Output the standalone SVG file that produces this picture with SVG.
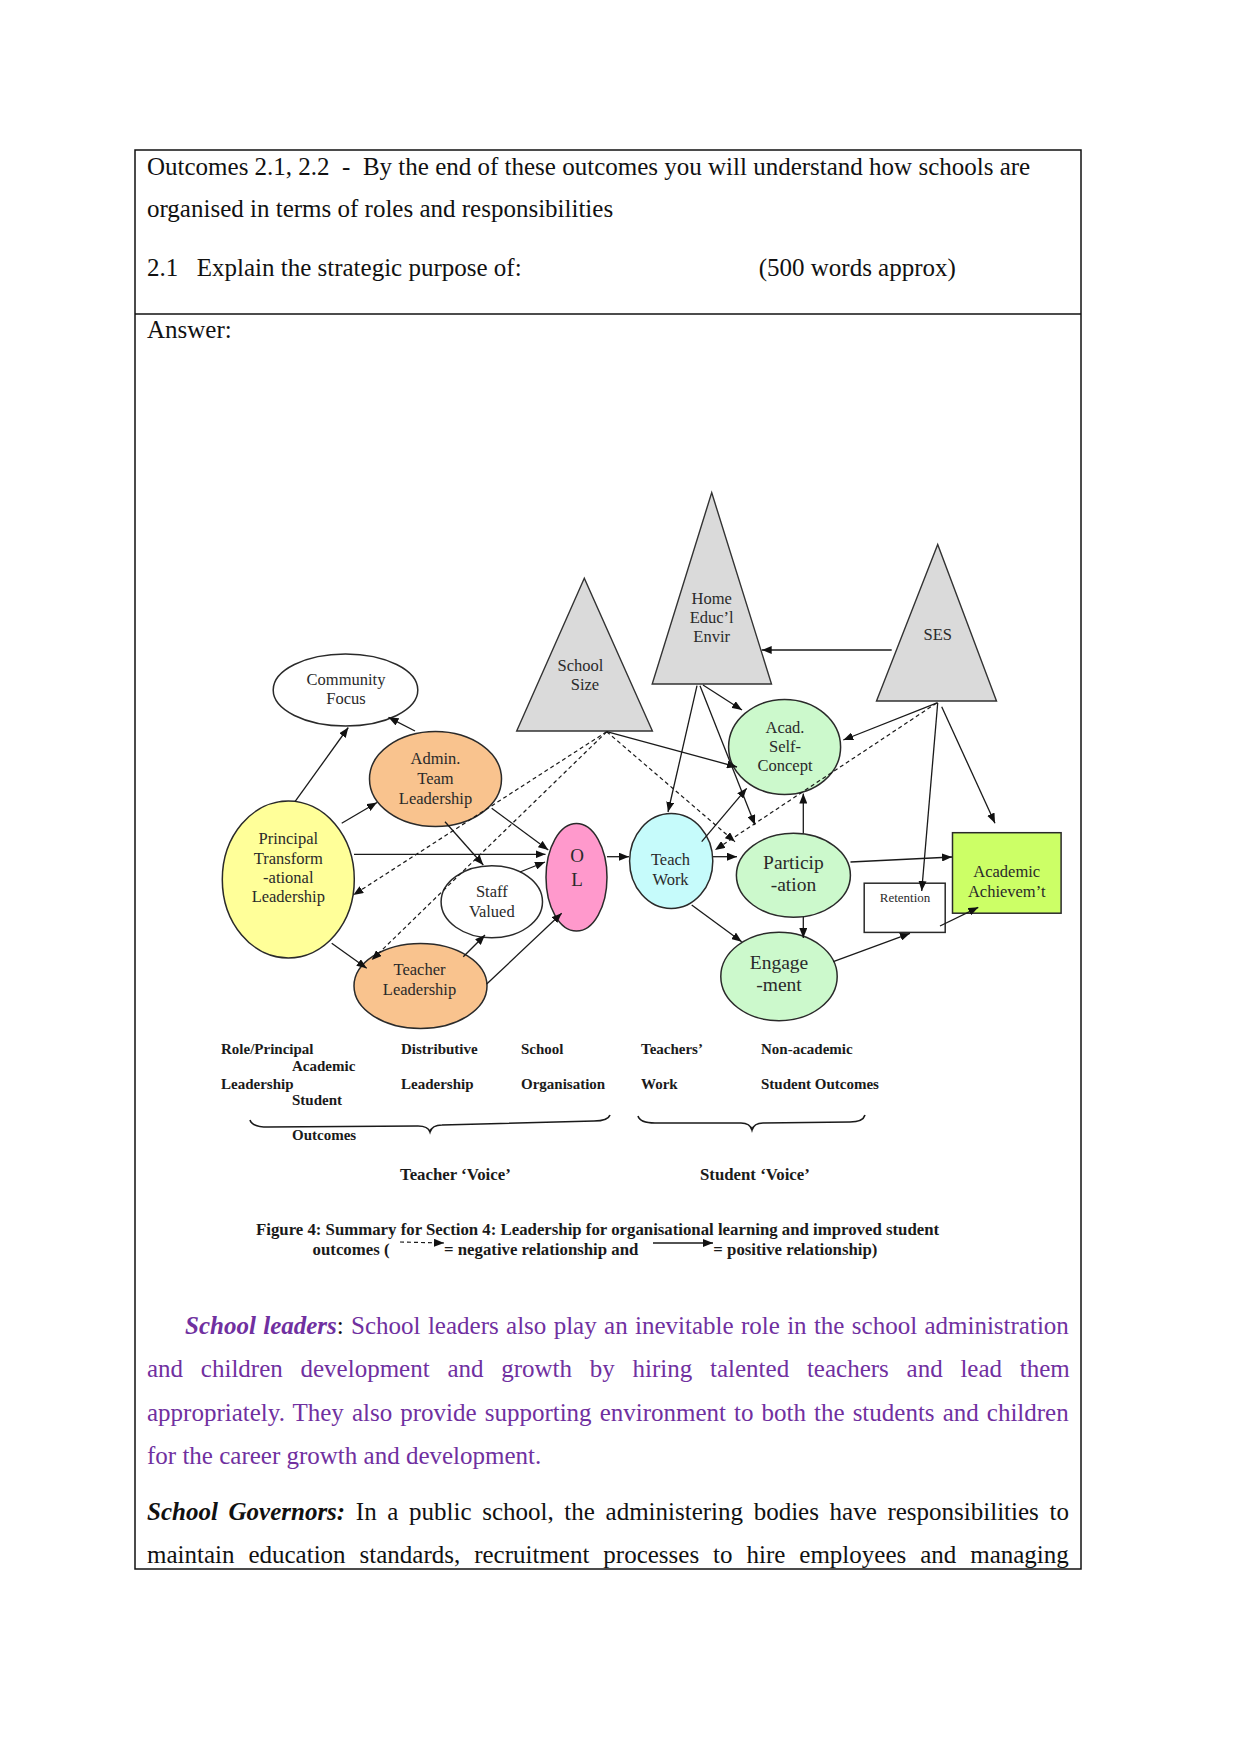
<svg xmlns="http://www.w3.org/2000/svg" width="1241" height="1754" viewBox="0 0 1241 1754">
<style>
text{font-family:"Liberation Serif","Times New Roman",serif;}
.body{font-size:25px;fill:#111;}
.purple{fill:#7030a0;}
.bi{font-weight:bold;font-style:italic;}
.nt{font-size:16.5px;text-anchor:middle;fill:#2a2a2a;}
.big{font-size:19.5px;}
.lab{font-size:15px;font-weight:bold;fill:#1a1a1a;}
.cap{font-size:16.8px;font-weight:bold;fill:#1a1a1a;}
.node{stroke:#2a2a2a;stroke-width:1.5;}
.tri{fill:#dadada;stroke:#333;stroke-width:1.4;}
.c{stroke:#1a1a1a;stroke-width:1.3;fill:none;marker-end:url(#ah);}
.d{stroke:#1a1a1a;stroke-width:1.2;fill:none;stroke-dasharray:4 3;marker-end:url(#ah);}
.brace{stroke:#1a1a1a;stroke-width:1.6;fill:none;}
</style>
<defs>
<marker id="ah" viewBox="0 0 10 8" refX="10" refY="4" markerWidth="10" markerHeight="8" markerUnits="userSpaceOnUse" orient="auto"><path d="M0,0 L10,4 L0,8 z" fill="#111"/></marker>
</defs>
<rect width="1241" height="1754" fill="#fff"/>
<!-- table frame -->
<rect x="135" y="150" width="946" height="1419" fill="none" stroke="#111" stroke-width="1.5"/>
<line x1="135" y1="314" x2="1081" y2="314" stroke="#111" stroke-width="1.5"/>
<!-- header text -->
<text class="body" x="147" y="174.5" xml:space="preserve">Outcomes 2.1, 2.2  -  By the end of these outcomes you will understand how schools are</text>
<text class="body" x="147" y="217">organised in terms of roles and responsibilities</text>
<text class="body" x="147" y="276">2.1</text>
<text class="body" x="196.7" y="276">Explain the strategic purpose of:</text>
<text class="body" x="758.7" y="276">(500 words approx)</text>
<text class="body" x="147" y="338">Answer:</text>

<!-- nodes -->
<g id="school-size"><polygon class="tri" points="584.3,578.3 516.7,731 652.4,731"/><text class="nt" x="580.5" y="671">School</text><text class="nt" x="585" y="690">Size</text></g>
<g id="home-env"><polygon class="tri" points="711.7,492.6 652.2,684 771.5,684"/><text class="nt" x="711.7" y="604">Home</text><text class="nt" x="711.7" y="623">Educ’l</text><text class="nt" x="711.7" y="642">Envir</text></g>
<g id="ses"><polygon class="tri" points="937.7,544.5 876.5,701 996.5,701"/><text class="nt" x="937.7" y="639.5">SES</text></g>
<g id="community"><ellipse class="node" cx="345.5" cy="690" rx="72.3" ry="36" fill="#fff"/><text class="nt" x="346" y="684.5">Community</text><text class="nt" x="346" y="703.5">Focus</text></g>
<g id="admin"><ellipse class="node" cx="435.5" cy="779" rx="66" ry="47.5" fill="#f9c38e"/><text class="nt" x="435.5" y="764" fill="#3d2410">Admin.</text><text class="nt" x="435.5" y="783.5" fill="#3d2410">Team</text><text class="nt" x="435.5" y="804" fill="#3d2410">Leadership</text></g>
<g id="principal"><ellipse class="node" cx="288.3" cy="879.5" rx="66" ry="78.5" fill="#ffff99"/><text class="nt" x="288.3" y="843.5" fill="#3a3a10">Principal</text><text class="nt" x="288.3" y="863.5" fill="#3a3a10">Transform</text><text class="nt" x="288.3" y="882.5" fill="#3a3a10">-ational</text><text class="nt" x="288.3" y="901.5" fill="#3a3a10">Leadership</text></g>
<g id="ol"><ellipse class="node" cx="576.5" cy="877.3" rx="30.5" ry="53.7" fill="#ff99cc"/><text class="nt" x="577" y="861.5" style="font-size:19px" fill="#8b1f57">O</text><text class="nt" x="577" y="886" style="font-size:19px" fill="#8b1f57">L</text></g>
<g id="staff"><ellipse class="node" cx="491.8" cy="901.8" rx="50.7" ry="36" fill="#fff"/><text class="nt" x="491.8" y="896.5">Staff</text><text class="nt" x="491.8" y="916.5">Valued</text></g>
<g id="teacher"><ellipse class="node" cx="420.5" cy="986" rx="66.5" ry="42.5" fill="#f9c38e"/><text class="nt" x="419.5" y="975" fill="#3d2410">Teacher</text><text class="nt" x="419.5" y="995" fill="#3d2410">Leadership</text></g>
<g id="teach-work"><ellipse class="node" cx="671.2" cy="861" rx="41.6" ry="47.5" fill="#c6fbfb"/><text class="nt" x="670.5" y="865" fill="#1f4848">Teach</text><text class="nt" x="670.5" y="885" fill="#1f4848">Work</text></g>
<g id="acad-self"><ellipse class="node" cx="784.6" cy="747" rx="56" ry="47.5" fill="#ccf9cc"/><text class="nt" x="785" y="733" fill="#1d3d1d">Acad.</text><text class="nt" x="785" y="752" fill="#1d3d1d">Self-</text><text class="nt" x="785" y="771" fill="#1d3d1d">Concept</text></g>
<g id="particip"><ellipse class="node" cx="793.4" cy="875.3" rx="57" ry="42" fill="#ccf9cc"/><text class="nt big" x="793.4" y="868.5" fill="#1d3d1d">Particip</text><text class="nt big" x="793.4" y="891" fill="#1d3d1d">-ation</text></g>
<g id="engage"><ellipse class="node" cx="779" cy="976.5" rx="58.2" ry="44.2" fill="#ccf9cc"/><text class="nt big" x="779" y="968.5" fill="#1d3d1d">Engage</text><text class="nt big" x="779" y="991" fill="#1d3d1d">-ment</text></g>
<g id="retention"><rect class="node" x="864.2" y="883.2" width="81" height="49.2" fill="#fff"/><text class="nt" x="905" y="901.7" style="font-size:13px">Retention</text></g>
<g id="academic"><rect class="node" x="952.5" y="832.7" width="108.6" height="80.5" fill="#ccff66"/><text class="nt" x="1006.7" y="876.7" fill="#2d3d10">Academic</text><text class="nt" x="1006.7" y="896.7" fill="#2d3d10">Achievem’t</text></g>

<!-- connectors -->
<g id="connectors">
<line class="c" x1="295" y1="801.7" x2="348.3" y2="727.5"/>
<line class="c" x1="415" y1="731" x2="388.5" y2="717.3"/>
<line class="c" x1="341.7" y1="823.3" x2="377" y2="802.5"/>
<line class="c" x1="354" y1="854.3" x2="545.5" y2="854.3"/>
<line class="c" x1="491.7" y1="808.3" x2="548.3" y2="850"/>
<line class="c" x1="445" y1="821.7" x2="483.3" y2="865"/>
<line class="c" x1="520" y1="872" x2="545" y2="862"/>
<line class="c" x1="331.7" y1="943.3" x2="366.7" y2="968.3"/>
<line class="c" x1="463.3" y1="956.7" x2="485" y2="935"/>
<line class="c" x1="486.7" y1="984" x2="561.7" y2="913.3"/>
<line class="c" x1="607" y1="856.7" x2="629" y2="856.7"/>
<line class="c" x1="606.7" y1="731.7" x2="737" y2="767"/>
<line class="c" x1="703" y1="685" x2="742" y2="710"/>
<line class="c" x1="697" y1="685.7" x2="668" y2="812"/>
<line class="c" x1="700" y1="685.7" x2="755" y2="825"/>
<line class="c" x1="891.7" y1="650" x2="761.7" y2="650"/>
<line class="c" x1="937.7" y1="702.7" x2="843.3" y2="740"/>
<line class="c" x1="937.7" y1="703" x2="921.7" y2="891"/>
<line class="c" x1="941.7" y1="706.7" x2="995" y2="823.3"/>
<line class="c" x1="701.7" y1="841.7" x2="746.7" y2="788.3"/>
<line class="c" x1="713" y1="856.7" x2="737" y2="856.7"/>
<line class="c" x1="691.7" y1="905" x2="741.7" y2="941.7"/>
<line class="c" x1="803.3" y1="833.5" x2="803.3" y2="793.5"/>
<line class="c" x1="803.3" y1="917" x2="803.3" y2="938"/>
<line class="c" x1="850.5" y1="862" x2="952" y2="857"/>
<line class="c" x1="833.3" y1="961.7" x2="910" y2="933.3"/>
<line class="c" x1="940" y1="926" x2="978.3" y2="907.3"/>
<line class="d" x1="606.7" y1="731.7" x2="353.3" y2="895"/>
<line class="d" x1="606.7" y1="731.7" x2="371.7" y2="960"/>
<line class="d" x1="606.7" y1="731.7" x2="735" y2="841.7"/>
<line class="d" x1="936.7" y1="703" x2="715" y2="850"/>
</g>

<!-- labels under diagram -->
<g id="labels">
<text class="lab" x="221" y="1054">Role/Principal</text>
<text class="lab" x="292" y="1071">Academic</text>
<text class="lab" x="221" y="1088.5">Leadership</text>
<text class="lab" x="292" y="1105">Student</text>
<text class="lab" x="292" y="1140">Outcomes</text>
<text class="lab" x="401" y="1054">Distributive</text>
<text class="lab" x="401" y="1088.5">Leadership</text>
<text class="lab" x="521" y="1054">School</text>
<text class="lab" x="521" y="1088.5">Organisation</text>
<text class="lab" x="641" y="1054">Teachers’</text>
<text class="lab" x="641" y="1088.5">Work</text>
<text class="lab" x="761" y="1054">Non-academic</text>
<text class="lab" x="761" y="1088.5">Student Outcomes</text>
<path class="brace" d="M250,1120 Q252,1127 268,1127 L418,1126 Q428,1126 430,1132 Q432,1125 442,1125 L594,1121 Q608,1121 610,1115"/>
<path class="brace" d="M638,1116 Q640,1123 655,1123 L741,1123 Q750,1123 752,1130 Q754,1123 763,1123 L850,1122 Q863,1122 865,1115"/>
<text class="cap" x="400" y="1180">Teacher ‘Voice’</text>
<text class="cap" x="700" y="1180">Student ‘Voice’</text>
<text class="cap" x="256" y="1235">Figure 4: Summary for Section 4: Leadership for organisational learning and improved student</text>
<text class="cap" x="312.6" y="1255">outcomes (</text>
<line class="d" x1="400" y1="1242" x2="444" y2="1243"/>
<text class="cap" x="444" y="1255">= negative relationship and</text>
<line class="c" x1="653" y1="1243" x2="713" y2="1243"/>
<text class="cap" x="713.3" y="1255">= positive relationship)</text>
</g>

<!-- body paragraphs -->
<text class="body purple" x="185" y="1333.5" style="word-spacing:1.1px"><tspan class="bi">School leaders</tspan><tspan fill="#111">:</tspan> School leaders also play an inevitable role in the school administration</text>
<text class="body purple" x="147" y="1377" style="word-spacing:11.5px">and children development and growth by hiring talented teachers and lead them</text>
<text class="body purple" x="147" y="1420.5" style="word-spacing:1.8px">appropriately. They also provide supporting environment to both the students and children</text>
<text class="body purple" x="147" y="1464">for the career growth and development.</text>
<text class="body" x="147" y="1519.5" style="word-spacing:4.4px"><tspan class="bi">School Governors:</tspan> In a public school, the administering bodies have responsibilities to</text>
<text class="body" x="147" y="1563" style="word-spacing:7.7px">maintain education standards, recruitment processes to hire employees and managing</text>
</svg>
